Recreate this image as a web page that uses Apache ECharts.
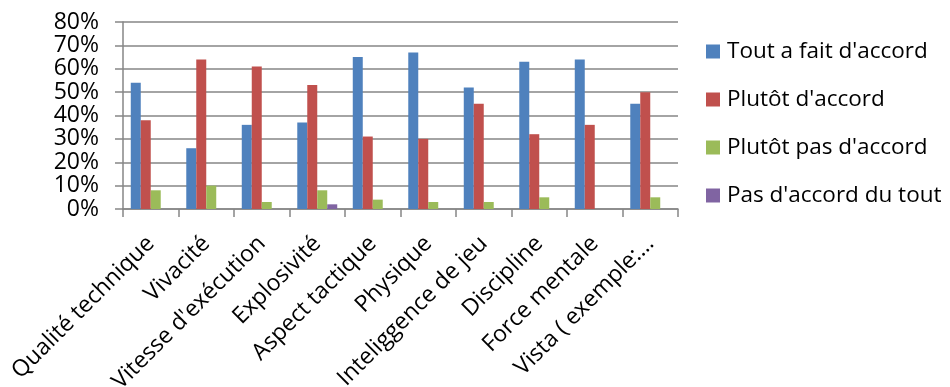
<!DOCTYPE html>
<html>
<head>
<meta charset="utf-8">
<script src="https://cdn.jsdelivr.net/npm/echarts@6/dist/echarts.min.js"></script>
<style>
  html, body { margin: 0; padding: 0; background: #fff; }
  #chart { width: 950px; height: 387px; }
</style>
</head>
<body>
<div id="chart"></div>
<script>
// Survey: perceived qualities, share of answers per agreement level (%)
const categories = [
  "Qualité technique", "Vivacité", "Vitesse d'exécution", "Explosivité",
  "Aspect tactique", "Physique", "Inteliggence de jeu", "Discipline",
  "Force mentale", "Vista ( exemple:…"
];
const toutAFait   = [54, 26, 36, 37, 65, 67, 52, 63, 64, 45];
const plutotOui   = [38, 64, 61, 53, 31, 30, 45, 32, 36, 50];
const plutotNon   = [8, 10, 3, 8, 4, 3, 3, 5, 0, 5];
const pasDuTout   = [0, 0, 0, 2, 0, 0, 0, 0, 0, 0];
const seriesNames = ["Tout a fait d'accord", "Plutôt d'accord", "Plutôt pas d'accord", "Pas d'accord du tout"];
const yTicks = { min: 0, max: 80, step: 10 };

const font = "'Open Sans', 'Noto Sans', sans-serif";
const colors = ['#4F81BD', '#C0504D', '#9BBB59', '#8064A2'];

const chart = echarts.init(document.getElementById('chart'), null, { renderer: 'canvas' });
const values = [toutAFait, plutotOui, plutotNon, pasDuTout];

chart.setOption({
  animation: false,
  backgroundColor: '#ffffff',
  color: colors,
  grid: {
    left: 123, right: 272, top: 22, bottom: 178,
    containLabel: false,
    outerBoundsMode: 'none'
  },
  legend: {
    orient: 'vertical',
    left: 706,
    top: 40,
    padding: 0,
    itemWidth: 14,
    itemHeight: 14,
    itemGap: 25,
    icon: 'rect',
    textStyle: { fontFamily: font, fontSize: 22.5, color: '#000', lineHeight: 23, padding: [0, 0, 0, 2] },
    data: seriesNames
  },
  xAxis: {
    type: 'category',
    data: categories,
    axisLine: { lineStyle: { color: '#868686', width: 1.5 } },
    axisTick: { show: true, length: 8, alignWithLabel: false, lineStyle: { color: '#868686', width: 1.5 } },
    axisLabel: {
      interval: 0,
      rotate: 45,
      margin: 31,
      hideOverlap: false,
      fontFamily: font,
      fontSize: 23,
      color: '#000'
    }
  },
  yAxis: {
    type: 'value',
    min: yTicks.min,
    max: yTicks.max,
    interval: yTicks.step,
    axisLine: { show: true, lineStyle: { color: '#868686', width: 1.5 } },
    axisTick: { show: true, length: 8, lineStyle: { color: '#868686', width: 1.5 } },
    splitLine: { lineStyle: { color: '#868686', width: 1.5 } },
    axisLabel: {
      formatter: '{value}%',
      margin: 24,
      showMinLabel: true,
      showMaxLabel: true,
      hideOverlap: false,
      fontFamily: font,
      fontSize: 23,
      color: '#000'
    }
  },
  series: seriesNames.map((name, i) => ({
    name,
    type: 'bar',
    data: values[i],
    barGap: '0%',
    barCategoryGap: '28%',
    itemStyle: { color: colors[i] }
  }))
});
</script>
</body>
</html>
